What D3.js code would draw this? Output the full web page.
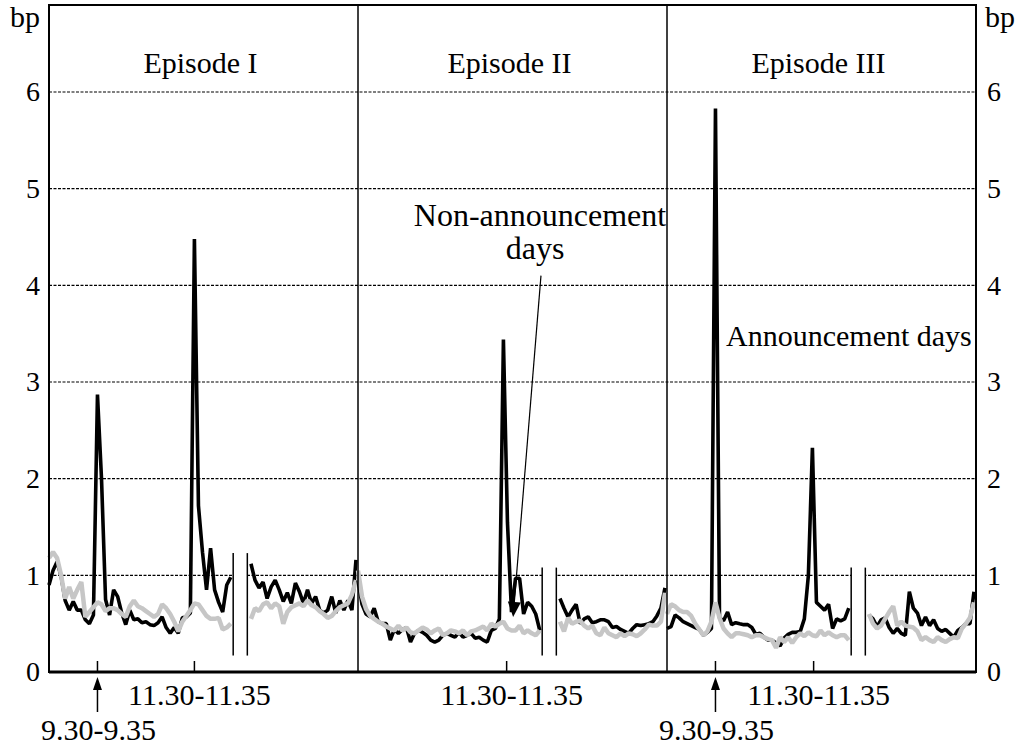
<!DOCTYPE html>
<html><head><meta charset="utf-8">
<script src="https://cdn.jsdelivr.net/npm/d3@7"></script>
<style>
body{margin:0;background:#fff}
svg{display:block}
text{font-family:"Liberation Serif","Times New Roman",serif;fill:#000}
</style>
</head><body>
<svg id="chart" width="1024" height="747"></svg>
<script>
// ---------------- DATA ----------------
const episodes = ["Episode I", "Episode II", "Episode III"];
const yTicks = [0, 1, 2, 3, 4, 5, 6];
const gridValues = [1, 2, 3, 4, 5, 6];
const unitLabel = "bp";
// 5-minute slots: morning session slots 0..45, afternoon session slots 50..76
const morningSlots = d3.range(0, 46);
const afternoonSlots = d3.range(50, 77);
const tick930Slot = [12, null, 12];
const tick1130Slot = [36, 36.8, 36.3];
const label930 = "9.30-9.35";
const label1130 = "11.30-11.35";

// Announcement days (black)
const annI_am = [0.90,1.05,1.14,0.99,0.74,0.64,0.73,0.64,0.64,0.54,0.50,0.59,2.87,2.00,0.75,0.59,0.85,0.78,0.61,0.49,0.64,0.54,0.55,0.51,0.52,0.49,0.48,0.51,0.57,0.46,0.40,0.46,0.40,0.56,0.57,0.61,4.48,1.72,1.24,0.85,1.28,0.85,0.72,0.62,0.90,0.98];
const annI_pm = [1.12,0.95,0.87,0.93,0.76,0.88,0.95,0.85,0.73,0.82,0.71,0.92,0.83,0.71,0.85,0.71,0.78,0.64,0.61,0.64,0.78,0.61,0.74,0.64,0.74,0.64,1.16];
const annII_am = [0.95,0.70,0.60,0.57,0.66,0.52,0.50,0.50,0.33,0.44,0.40,0.44,0.46,0.31,0.40,0.43,0.41,0.38,0.33,0.31,0.33,0.38,0.40,0.38,0.36,0.41,0.36,0.38,0.40,0.35,0.36,0.33,0.31,0.43,0.45,0.55,3.44,1.55,0.62,0.97,0.97,0.60,0.72,0.68,0.60,0.43];
const annII_pm = [0.76,0.66,0.57,0.64,0.70,0.50,0.55,0.57,0.51,0.52,0.54,0.54,0.52,0.46,0.47,0.44,0.42,0.40,0.45,0.49,0.48,0.49,0.50,0.52,0.58,0.66,0.87];
const annIII_am = [0.45,0.47,0.59,0.56,0.52,0.50,0.48,0.46,0.44,0.38,0.41,0.45,5.83,0.56,0.53,0.62,0.49,0.51,0.50,0.49,0.49,0.46,0.39,0.40,0.36,0.33,0.33,0.30,0.27,0.35,0.39,0.41,0.41,0.42,0.55,1.00,2.32,0.72,0.68,0.64,0.70,0.45,0.55,0.53,0.55,0.66];
const annIII_pm = [0.59,0.55,0.47,0.54,0.56,0.46,0.40,0.45,0.40,0.38,0.83,0.66,0.61,0.48,0.57,0.48,0.54,0.45,0.42,0.44,0.40,0.36,0.43,0.46,0.50,0.50,0.83];

// Non-announcement days (grey)
const nonI_am = [1.18,1.24,1.18,1.00,0.76,0.88,0.76,0.85,0.93,0.57,0.62,0.67,0.72,0.70,0.63,0.66,0.66,0.64,0.60,0.57,0.68,0.74,0.68,0.66,0.63,0.60,0.57,0.60,0.70,0.66,0.60,0.52,0.42,0.52,0.58,0.64,0.71,0.70,0.64,0.58,0.55,0.55,0.56,0.44,0.46,0.50];
const nonI_pm = [0.55,0.66,0.63,0.70,0.72,0.66,0.71,0.68,0.50,0.62,0.67,0.69,0.71,0.68,0.74,0.69,0.67,0.63,0.60,0.56,0.58,0.63,0.67,0.69,0.71,0.80,0.95];
const nonII_am = [1.05,0.78,0.65,0.58,0.55,0.52,0.50,0.47,0.45,0.43,0.48,0.43,0.46,0.41,0.40,0.43,0.46,0.44,0.40,0.43,0.45,0.38,0.40,0.43,0.42,0.40,0.43,0.38,0.42,0.43,0.45,0.47,0.43,0.50,0.47,0.50,0.52,0.45,0.43,0.43,0.48,0.40,0.43,0.40,0.38,0.43];
const nonII_pm = [0.52,0.42,0.56,0.50,0.52,0.53,0.48,0.45,0.48,0.40,0.38,0.46,0.40,0.38,0.36,0.40,0.37,0.40,0.39,0.37,0.40,0.44,0.49,0.48,0.48,0.52,0.82];
const nonIII_am = [0.60,0.70,0.68,0.64,0.62,0.62,0.58,0.50,0.44,0.38,0.42,0.52,0.72,0.56,0.45,0.40,0.36,0.40,0.40,0.39,0.38,0.36,0.38,0.38,0.36,0.34,0.33,0.25,0.36,0.31,0.36,0.30,0.36,0.40,0.37,0.41,0.38,0.37,0.43,0.38,0.41,0.38,0.36,0.38,0.38,0.33];
const nonIII_pm = [0.60,0.50,0.45,0.48,0.55,0.62,0.68,0.48,0.52,0.48,0.47,0.46,0.42,0.33,0.36,0.33,0.31,0.36,0.33,0.31,0.34,0.36,0.35,0.45,0.50,0.56,0.72];

const annSeries = [[annI_am, annI_pm], [annII_am, annII_pm], [annIII_am, annIII_pm]];
const nonSeries = [[nonI_am, nonI_pm], [nonII_am, nonII_pm], [nonIII_am, nonIII_pm]];

// ---------------- LAYOUT ----------------
const svg = d3.select("#chart");
const L = 49, R = 976, T = 5, B = 672;
const FS = 30, FSA = 32, FSY = 28;
const band = d3.scaleBand().domain(episodes).range([L, R]).padding(0);
const y = d3.scaleLinear().domain([0, 6.9]).range([B, T]);
const xFor = ep => d3.scaleLinear().domain([0, 76.5]).range([band(ep), band(ep) + band.bandwidth()]);
const breakLo = 45.6, breakHi = 49.1;
const breakTop = [1.23, 1.08, 1.08], breakBottom = 0.17;

// gridlines
svg.append("g").selectAll("line").data(gridValues).join("line")
  .attr("x1", L).attr("x2", R).attr("y1", d => y(d)).attr("y2", d => y(d))
  .attr("stroke", "#000").attr("stroke-width", 1.2).attr("stroke-dasharray", "3,1.5");

const line = d3.line().x(d => d.x).y(d => d.y);

episodes.forEach((ep, k) => {
  const x = xFor(ep);
  const g = svg.append("g");
  // break gap
  g.append("rect").attr("x", x(breakLo)).attr("width", x(breakHi) - x(breakLo))
    .attr("y", y(breakTop[k])).attr("height", y(breakBottom) - y(breakTop[k])).attr("fill", "#fff");
  [breakLo, breakHi].forEach(b => g.append("line")
    .attr("x1", x(b)).attr("x2", x(b)).attr("y1", y(breakTop[k])).attr("y2", y(breakBottom))
    .attr("stroke", "#000").attr("stroke-width", 1.5));
  const draw = (series, color, w) => {
    [[morningSlots, series[0]], [afternoonSlots, series[1]]].forEach(([slots, vals]) => {
      const pts = vals.map((v, i) => ({x: x(slots[i]), y: y(v)}));
      g.append("path").attr("d", line(pts)).attr("fill", "none")
        .attr("stroke", color).attr("stroke-width", w).attr("stroke-linejoin", "bevel");
    });
  };
  draw(annSeries[k], "#000", 3.6);
  draw(nonSeries[k], "#c6c6c6", 4.5);

  // bottom ticks
  [tick930Slot[k], tick1130Slot[k]].forEach(s => {
    if (s == null) return;
    g.append("line").attr("x1", x(s)).attr("x2", x(s)).attr("y1", B - 11).attr("y2", B)
      .attr("stroke", "#000").attr("stroke-width", 1.5);
  });
  // 11.30 label
  g.append("text").attr("x", x(tick1130Slot[k]) + 5).attr("y", 705)
    .attr("text-anchor", "middle").attr("font-size", FS).text(label1130);
  // 9.30 arrow + label
  if (tick930Slot[k] != null) {
    const xs = x(tick930Slot[k]);
    g.append("line").attr("x1", xs).attr("x2", xs).attr("y1", 712).attr("y2", 688)
      .attr("stroke", "#000").attr("stroke-width", 1.5);
    g.append("path").attr("d", `M${xs},677 L${xs - 4.5},690 L${xs + 4.5},690 Z`).attr("fill", "#000");
    g.append("text").attr("x", xs + 1).attr("y", 740).attr("text-anchor", "middle")
      .attr("font-size", FS).text(label930);
  }
  // episode title
  g.append("text").attr("x", band(ep) + band.bandwidth() / 2 - 3).attr("y", 73)
    .attr("text-anchor", "middle").attr("font-size", FS).text(ep);
});

// frame and dividers
svg.append("rect").attr("x", L).attr("y", T).attr("width", R - L).attr("height", B - T)
  .attr("fill", "none").attr("stroke", "#000").attr("stroke-width", 2);
svg.append("line").attr("x1", L).attr("x2", R).attr("y1", B).attr("y2", B)
  .attr("stroke", "#000").attr("stroke-width", 3);
svg.append("g").selectAll("line").data(episodes.slice(1)).join("line")
  .attr("x1", d => band(d)).attr("x2", d => band(d)).attr("y1", T).attr("y2", B)
  .attr("stroke", "#000").attr("stroke-width", 1.5);

// y axes
const axL = svg.append("g").attr("transform", `translate(${L},0)`)
  .call(d3.axisLeft(y).tickValues(yTicks).tickSize(0).tickPadding(9).tickFormat(d3.format("d")));
const axR = svg.append("g").attr("transform", `translate(${R},0)`)
  .call(d3.axisRight(y).tickValues(yTicks).tickSize(0).tickPadding(11).tickFormat(d3.format("d")));
[axL, axR].forEach(a => {
  a.attr("font-family", null).attr("font-size", null);
  a.select(".domain").remove();
  a.selectAll("text").attr("font-size", FSY).attr("fill", "#000");
});
svg.append("text").attr("x", 10).attr("y", 27).attr("font-size", FS).text(unitLabel);
svg.append("text").attr("x", 985).attr("y", 27).attr("font-size", FS).text(unitLabel);

// annotations
const xII = xFor(episodes[1]);
const a0 = [xII(45.3), y(4.1)], a1 = [xII(38.4), y(0.57)];
const ang = Math.atan2(a1[1] - a0[1], a1[0] - a0[0]);
const hl = 15, hw = 6.5;
const base = [a1[0] - hl * Math.cos(ang), a1[1] - hl * Math.sin(ang)];
svg.append("line").attr("x1", a0[0]).attr("y1", a0[1]).attr("x2", base[0]).attr("y2", base[1])
  .attr("stroke", "#000").attr("stroke-width", 1.2);
svg.append("path").attr("d",
  `M${a1[0]},${a1[1]} L${base[0] + hw * Math.sin(ang)},${base[1] - hw * Math.cos(ang)} L${base[0] - hw * Math.sin(ang)},${base[1] + hw * Math.cos(ang)} Z`)
  .attr("fill", "#000");
svg.append("text").attr("x", 540).attr("y", 226).attr("text-anchor", "middle").attr("font-size", FSA).text("Non-announcement");
svg.append("text").attr("x", 535).attr("y", 259).attr("text-anchor", "middle").attr("font-size", FSA).text("days");
svg.append("text").attr("x", 726).attr("y", 346).attr("font-size", FS).text("Announcement days");
</script>
</body></html>
